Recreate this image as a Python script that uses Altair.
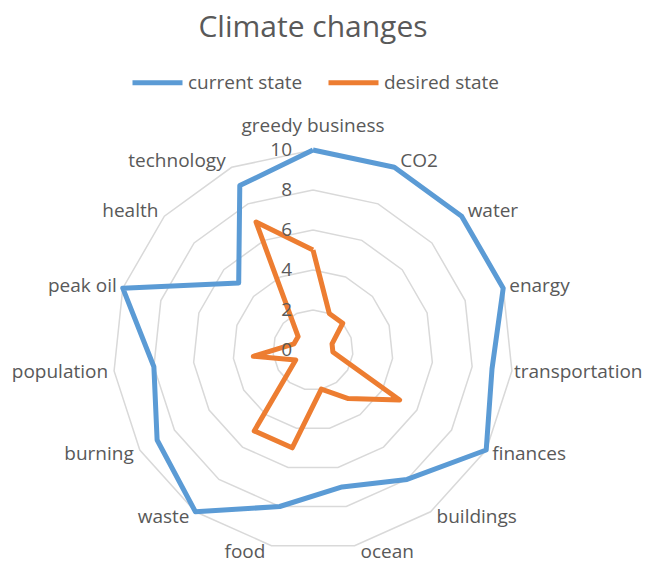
import altair as alt
import pandas as pd
import numpy as np

categories = ["greedy business", "CO2", "water", "enargy", "transportation",
              "finances", "buildings", "ocean", "food", "waste", "burning",
              "population", "peak oil", "health", "technology"]
current_state = [10, 10, 10, 10, 9, 10, 8, 7, 8, 10, 9, 8, 10, 5, 9]
desired_state = [5, 2, 2, 1, 1, 5, 3, 2, 5, 5, 1, 3, 1, 1, 7]
series_names = ["current state", "desired state"]
series_colors = ["#5B9BD5", "#ED7D31"]
tick_values = [0, 2, 4, 6, 8, 10]
grid_levels = [2, 4, 6, 8, 10]
r_max = 10

n = len(categories)
angles = [2 * np.pi * i / n for i in range(n)]

FONT = "Open Sans"
GRAY = "#595959"
FS = 19

# series polygons
rows = []
for name, vals in zip(series_names, [current_state, desired_state]):
    for k in range(n + 1):
        i = k % n
        rows.append({"series": name, "order": k, "category": categories[i],
                     "value": vals[i],
                     "x": vals[i] * np.sin(angles[i]),
                     "y": vals[i] * np.cos(angles[i])})
series_df = pd.DataFrame(rows)

# grid rings
grows = []
for lv in grid_levels:
    for k in range(n + 1):
        i = k % n
        grows.append({"level": lv, "order": k,
                      "x": lv * np.sin(angles[i]), "y": lv * np.cos(angles[i])})
grid_df = pd.DataFrame(grows)

# tick labels
tick_df = pd.DataFrame({"label": [str(t) for t in tick_values],
                        "x": [0.0] * len(tick_values), "y": tick_values})

# category labels
lrows = []
for i, c in enumerate(categories):
    s, co = np.sin(angles[i]), np.cos(angles[i])
    side = "center" if abs(s) < 0.05 else ("left" if s > 0 else "right")
    if s > 0.99:
        side = "edge"
    lrows.append({"label": c, "side": side,
                  "x": r_max * s, "y": r_max * co + 0.35 * co})
lab_df = pd.DataFrame(lrows)

xdom = [-15.25, 16.45]
ydom = [-9.95, 12.1]
xs = alt.Scale(domain=xdom, nice=False, zero=False)
ys = alt.Scale(domain=ydom, nice=False, zero=False)

grid = alt.Chart(grid_df).mark_line(color="#d9d9d9", strokeWidth=1.5).encode(
    x=alt.X("x:Q", scale=xs, axis=None),
    y=alt.Y("y:Q", scale=ys, axis=None),
    detail="level:N",
    order="order:Q",
)

lines = alt.Chart(series_df).mark_line(strokeWidth=5, strokeJoin="round").encode(
    x=alt.X("x:Q", scale=xs, axis=None),
    y=alt.Y("y:Q", scale=ys, axis=None),
    color=alt.Color("series:N",
                    scale=alt.Scale(domain=series_names, range=series_colors),
                    legend=alt.Legend(orient="none", direction="horizontal",
                                      legendX=122, legendY=-53, title=None,
                                      symbolType="stroke", symbolSize=2500,
                                      symbolStrokeWidth=5,
                                      labelFont=FONT, labelFontSize=FS,
                                      labelColor=GRAY, labelOffset=3,
                                      columnPadding=15, padding=0)),
    order="order:Q",
)

ticks = alt.Chart(tick_df).mark_text(align="right", baseline="middle", dx=-21,
                                     font=FONT, fontSize=FS, color=GRAY).encode(
    x=alt.X("x:Q", scale=xs, axis=None),
    y=alt.Y("y:Q", scale=ys, axis=None),
    text="label:N",
)

def lab_layer(side, align, dx, dy):
    return alt.Chart(lab_df).transform_filter(
        alt.datum.side == side
    ).mark_text(align=align, baseline="middle", dx=dx, dy=dy,
                font=FONT, fontSize=FS, color=GRAY).encode(
        x=alt.X("x:Q", scale=xs, axis=None),
        y=alt.Y("y:Q", scale=ys, axis=None),
        text="label:N",
    )

labels = (lab_layer("left", "left", 6, 0) + lab_layer("right", "right", -6, 0)
          + lab_layer("edge", "left", 2, 0)
          + lab_layer("center", "center", 0, -17))

chart = alt.layer(grid, lines, ticks, labels).properties(
    width=634, height=441,
    padding={"left": 0, "top": 100, "right": 0, "bottom": 14},
    autosize=alt.AutoSizeParams(type="none"),
    title=alt.TitleParams("Climate  changes", font=FONT, fontSize=30,
                          fontWeight="normal", color=GRAY, anchor="middle",
                          dx=-12, offset=12),
).configure_view(stroke=None)

chart.save("out.html", embed_options={"renderer": "svg", "actions": False})
